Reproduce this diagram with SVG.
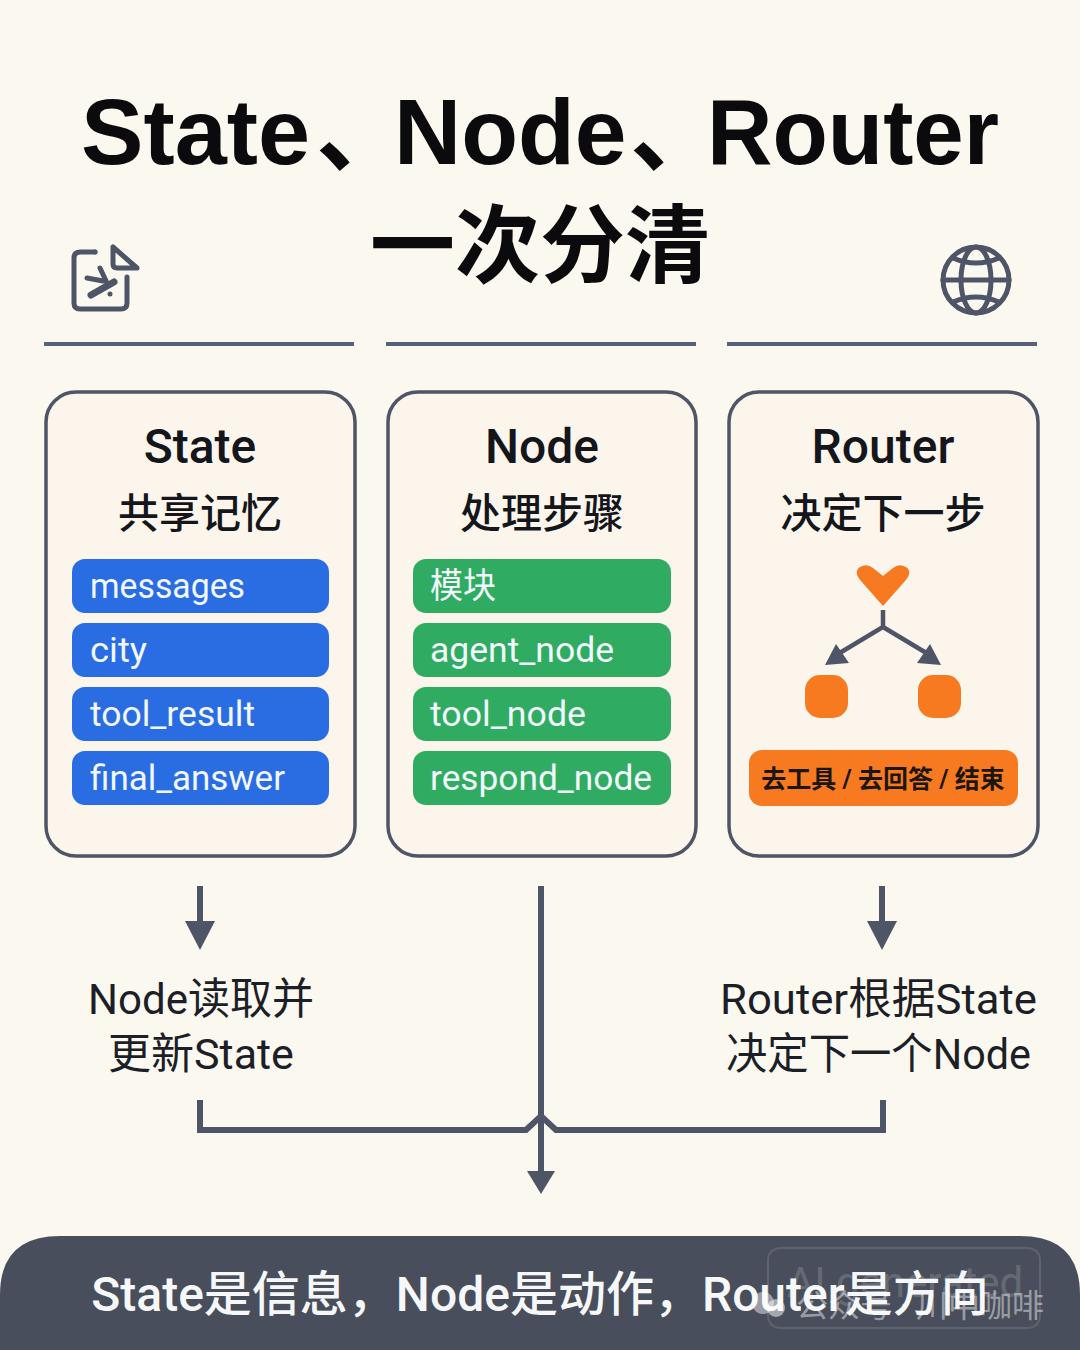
<svg xmlns="http://www.w3.org/2000/svg" width="1080" height="1350" viewBox="0 0 1080 1350">
<style>
text{font-family:"Roboto","Noto Sans CJK SC",sans-serif;text-anchor:middle}
.title{font-family:"Liberation Sans","Noto Sans CJK SC",sans-serif;font-size:93px;font-weight:700;fill:#0b0b0d;text-anchor:start}
.title2{font-family:"Liberation Sans","Noto Sans CJK SC",sans-serif;font-size:85px;font-weight:700;fill:#0b0b0d}
.card{fill:#fbf5ec;stroke:#4d5566;stroke-width:3.5}
.rule{fill:none;stroke:#59617a;stroke-width:4}
.head{font-size:48px;font-weight:500;fill:#14161c}
.sub{font-size:41px;font-weight:500;fill:#14161c}
.pill{font-size:35px;fill:#f2f7fb;text-anchor:start}
.blue{fill:#2a6de2}.green{fill:#2fac62}.orange{fill:#f77a20}
.note{font-size:43px;fill:#1c1f27}
.line{fill:none;stroke:#4d5566;stroke-width:6}
.ah{fill:#4d5566}
.icon{fill:none;stroke:#4d5566;stroke-width:5;stroke-linecap:round;stroke-linejoin:round}
</style>
<rect width="1080" height="1350" fill="#fbf8f0"/>
<g id="title">
<text class="title" y="164"><tspan x="81" textLength="229" lengthAdjust="spacingAndGlyphs">State</tspan><tspan x="316">、</tspan><tspan x="394">Node</tspan><tspan x="630">、</tspan><tspan x="707" textLength="292" lengthAdjust="spacingAndGlyphs">Router</tspan></text>
<text class="title2" x="540" y="276">一次分清</text>
</g>
<g id="icon-doc" class="icon">
<path d="M95 252H80Q74 252 74 258V303Q74 309 80 309H121Q127 309 127 303V277"/>
<circle cx="95" cy="252" r="2.5" fill="#4d5566" stroke="none"/>
<path d="M113 247V264Q113 268 117 268H137Z"/>
<path d="M91 295L114 282" stroke-width="7"/>
<path d="M100 268L107 283M87 278L103 281" stroke-width="5"/>
<circle cx="110" cy="294" r="2.5" fill="#4d5566" stroke="none"/>
</g>
<g id="icon-globe" class="icon">
<circle cx="976" cy="280" r="33"/>
<ellipse cx="976" cy="280" rx="15" ry="33"/>
<path d="M943 280H1009M953 258Q976 268 999 258M953 302Q976 292 999 302"/>
</g>
<g id="rules">
<path class="rule" d="M44 344H354M386 344H696M727 344H1037"/>
</g>
<g id="state">
<rect class="card" x="46" y="392" width="309" height="464" rx="30"/>
<text class="head" x="200" y="463">State</text>
<text class="sub" x="200" y="528">共享记忆</text>
<rect class="blue" x="72" y="559" width="257" height="54" rx="13"/>
<rect class="blue" x="72" y="623" width="257" height="54" rx="13"/>
<rect class="blue" x="72" y="687" width="257" height="54" rx="13"/>
<rect class="blue" x="72" y="751" width="257" height="54" rx="13"/>
<text class="pill" x="90" y="598" textLength="155" lengthAdjust="spacingAndGlyphs">messages</text>
<text class="pill" x="90" y="662" textLength="57" lengthAdjust="spacingAndGlyphs">city</text>
<text class="pill" x="90" y="726" textLength="165" lengthAdjust="spacingAndGlyphs">tool_result</text>
<text class="pill" x="90" y="790" textLength="195" lengthAdjust="spacingAndGlyphs">final_answer</text>
</g>
<g id="node">
<rect class="card" x="388" y="392" width="308" height="464" rx="30"/>
<text class="head" x="542" y="463">Node</text>
<text class="sub" x="542" y="528">处理步骤</text>
<rect class="green" x="413" y="559" width="258" height="54" rx="13"/>
<rect class="green" x="413" y="623" width="258" height="54" rx="13"/>
<rect class="green" x="413" y="687" width="258" height="54" rx="13"/>
<rect class="green" x="413" y="751" width="258" height="54" rx="13"/>
<text class="pill" x="430" y="598" textLength="66" lengthAdjust="spacingAndGlyphs">模块</text>
<text class="pill" x="430" y="662" textLength="184" lengthAdjust="spacingAndGlyphs">agent_node</text>
<text class="pill" x="430" y="726" textLength="156" lengthAdjust="spacingAndGlyphs">tool_node</text>
<text class="pill" x="430" y="790" textLength="222" lengthAdjust="spacingAndGlyphs">respond_node</text>
</g>
<g id="router">
<rect class="card" x="729" y="392" width="309" height="464" rx="30"/>
<text class="head" x="883" y="463">Router</text>
<text class="sub" x="883" y="528">决定下一步</text>
<path class="orange" d="M883 606L861 581Q853 572 860 567Q867 563 873 568L883 576L893 568Q899 563 906 567Q913 572 905 581Z"/>
<path d="M883 610V627L838 654M883 627L928 654" fill="none" stroke="#4d5566" stroke-width="4.5"/>
<path class="ah" d="M825 665L836 644L849 663Z"/>
<path class="ah" d="M941 665L930 644L917 663Z"/>
<rect class="orange" x="805" y="675" width="43" height="43" rx="15"/>
<rect class="orange" x="918" y="675" width="43" height="43" rx="15"/>
<rect class="orange" x="749" y="750" width="269" height="56" rx="13"/>
<text x="883" y="788" font-weight="700" fill="#1c1610" style="font-size:25px">去工具 / 去回答 / 结束</text>
</g>
<g id="notes">
<text class="note" x="201" y="1014" textLength="226" lengthAdjust="spacingAndGlyphs">Node读取并</text>
<text class="note" x="201" y="1069">更新State</text>
<text class="note" x="878.500" y="1014" textLength="317" lengthAdjust="spacingAndGlyphs">Router根据State</text>
<text class="note" x="878.500" y="1069" textLength="305" lengthAdjust="spacingAndGlyphs">决定下一个Node</text>
</g>
<g id="connectors">
<path class="line" d="M200 886V922"/><path class="ah" d="M185 921H215L200 950Z"/>
<path class="line" d="M882 886V922"/><path class="ah" d="M867 921H897L882 950Z"/>
<path class="line" d="M541 886V1173"/><path class="ah" d="M527 1171H555L541 1194Z"/>
<path class="line" d="M200 1100V1130H526L541 1116L556 1130H883V1100"/>
</g>
<g id="banner">
<path d="M0 1350V1295Q0 1236 60 1236H1020Q1080 1236 1080 1295V1350Z" fill="#484e5b"/>
<rect x="768" y="1248" width="272" height="80" rx="12" fill="none" stroke="#fff" stroke-opacity=".12" stroke-width="2"/>
<text x="905" y="1297" fill="#fff" fill-opacity=".18" style="font-size:42px">AI generated</text>
<text x="540" y="1311" fill="#f6f7f8" font-weight="500" style="font-size:48px">State是信息，Node是动作，Router是方向</text>
<circle cx="763" cy="1303" r="11" fill="#fff" fill-opacity=".45"/>
<circle cx="776" cy="1308" r="9" fill="#fff" fill-opacity=".5"/>
<text x="920" y="1317" fill="#fff" fill-opacity=".45" style="font-size:32px">公众号 · 川中咖啡</text>
</g>
</svg>
